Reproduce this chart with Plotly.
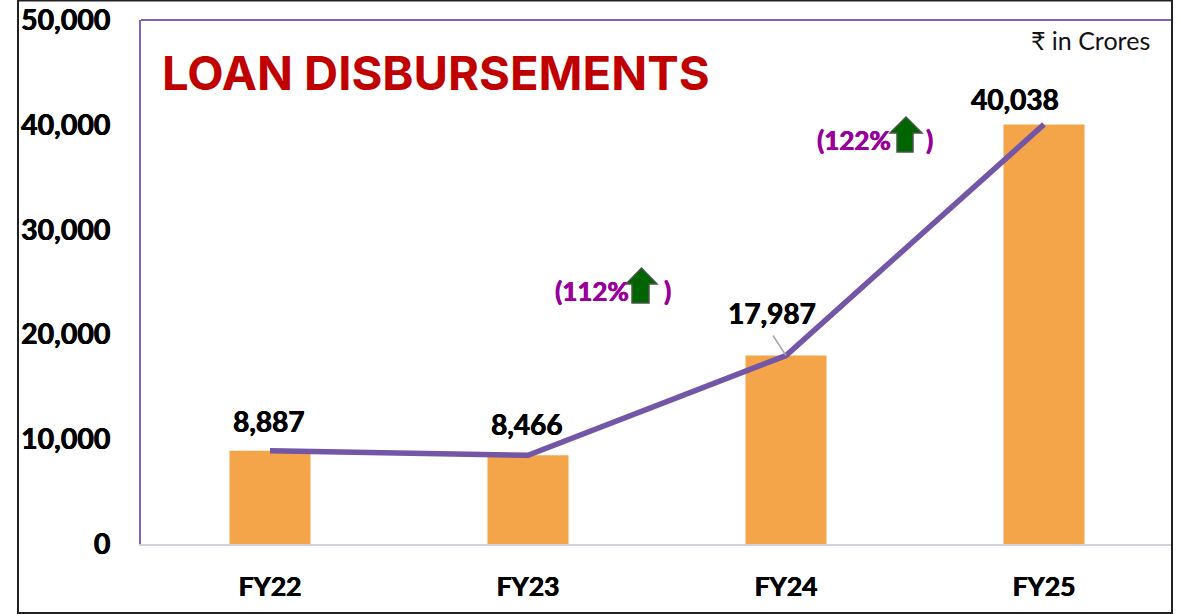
import plotly.graph_objects as go

W, H = 1183, 614
L, R, T, B = 141, 1173, 20, 544

categories = ["FY22", "FY23", "FY24", "FY25"]
disbursements = [8887, 8466, 17987, 40038]
y_ticks = [0, 10000, 20000, 30000, 40000, 50000]
growth_labels = ["(112%", "(122%"]

BLACK = "#000000"
PURPLE = "#7356A6"
MAGENTA = "#990099"
FONT = "Lato"
WEIGHT = "bold"
HEAVY_BLACK = "0.5px 0 0 #000000, -0.3px 0 0 #000000"
HEAVY_MAGENTA = "0.5px 0 0 #990099, -0.3px 0 0 #990099"


def px(x):
    return (x - L) / (R - L)


def py(y):
    return (B - y) / (B - T)


def arrow_path(cx0, cx1, s0, s1, top, shoulder, bottom):
    mid = (cx0 + cx1) / 2
    pts = [(mid, top), (cx1, shoulder), (s1, shoulder), (s1, bottom),
           (s0, bottom), (s0, shoulder), (cx0, shoulder)]
    return "M " + " L ".join(f"{px(a):.5f},{py(b):.5f}" for a, b in pts) + " Z"


fig = go.Figure()
fig.add_bar(x=categories, y=disbursements, width=0.314, marker=dict(color="#F4A54A", line_width=0))
fig.add_scatter(x=categories, y=disbursements, mode="lines",
                line=dict(color=PURPLE, width=5.5, shape="linear"), cliponaxis=False)

label_shift = [(-1, 30), (-1, 31), (-14, 43), (-29, 25)]
annotations = [
    dict(x=c, y=v, text=f"{v:,}", showarrow=False, xshift=s[0], yshift=s[1],
         font=dict(family=FONT, size=28, color=BLACK, weight=WEIGHT, shadow=HEAVY_BLACK))
    for c, v, s in zip(categories, disbursements, label_shift)
]

for text, x0, x_close, yc in zip(growth_labels, [553, 815], [667, 929], [291, 140]):
    annotations.append(dict(xref="paper", yref="paper", x=px(x0), y=py(yc), xanchor="left", yanchor="middle",
                            text=text, showarrow=False,
                            font=dict(family=FONT, size=26, color=MAGENTA, weight=WEIGHT, shadow=HEAVY_MAGENTA)))
    annotations.append(dict(xref="paper", yref="paper", x=px(x_close), y=py(yc), xanchor="center", yanchor="middle",
                            text=")", showarrow=False,
                            font=dict(family=FONT, size=26, color=MAGENTA, weight=WEIGHT, shadow=HEAVY_MAGENTA)))

annotations.append(dict(xref="paper", yref="paper", x=px(160), y=py(72), xanchor="left", yanchor="middle",
                        text="LOAN DISBURSEMENTS", showarrow=False,
                        font=dict(family="Inter", size=47.2, color="#C00000", weight="bold")))
annotations.append(dict(xref="paper", yref="paper", x=px(1152), y=py(40), xanchor="right", yanchor="middle",
                        text="₹ in Crores", showarrow=False,
                        font=dict(family=FONT, size=25, color="#111111")))

shapes = [
    dict(type="line", xref="paper", yref="paper", x0=0, x1=px(1172), y0=1, y1=1,
         line=dict(color="#7F63B4", width=2)),
    dict(type="rect", xref="paper", yref="paper", x0=px(18), x1=px(1172), y0=py(0.5), y1=py(613),
         line=dict(color="#222222", width=2), layer="above"),
    dict(type="path", xref="paper", yref="paper", path=arrow_path(626, 657, 632, 649, 268, 284, 303),
         fillcolor="#006400", line=dict(color="#4A554A", width=1.5), layer="above"),
    dict(type="path", xref="paper", yref="paper", path=arrow_path(890, 922, 897, 913, 117, 133, 152),
         fillcolor="#006400", line=dict(color="#4A554A", width=1.5), layer="above"),
    dict(type="line", xref="x", yref="y", xsizemode="pixel", ysizemode="pixel",
         xanchor=categories[2], yanchor=disbursements[2], x0=-13, x1=0, y0=20, y1=0,
         line=dict(color="#A6A6A6", width=1.5)),
]

fig.update_layout(
    width=W, height=H, autosize=False,
    margin=dict(l=L, r=W - R, t=T, b=H - B, pad=0, autoexpand=False),
    paper_bgcolor="white", plot_bgcolor="white", showlegend=False,
    bargap=0.686,
    annotations=annotations, shapes=shapes,
    xaxis=dict(type="category", categoryorder="array", categoryarray=categories, automargin=False,
               showgrid=False, showline=True, linecolor="#D3D0DC", linewidth=2, zeroline=False,
               ticks="outside", ticklen=18, tickcolor="rgba(0,0,0,0)",
               tickfont=dict(family=FONT, size=26.5, color=BLACK, weight=WEIGHT, shadow=HEAVY_BLACK)),
    yaxis=dict(range=[0, 50000], tickvals=y_ticks, tickformat=",d", automargin=False,
               showgrid=False, showline=True, linecolor="#7F63B4", linewidth=2, zeroline=False,
               ticks="outside", ticklen=23, tickcolor="rgba(0,0,0,0)",
               tickfont=dict(family=FONT, size=28.5, color=BLACK, weight=WEIGHT, shadow=HEAVY_BLACK)),
)

fig.write_html("out.html", config=dict(displayModeBar=False),
               post_script="document.body.style.margin='0';document.documentElement.style.overflow='hidden';")
